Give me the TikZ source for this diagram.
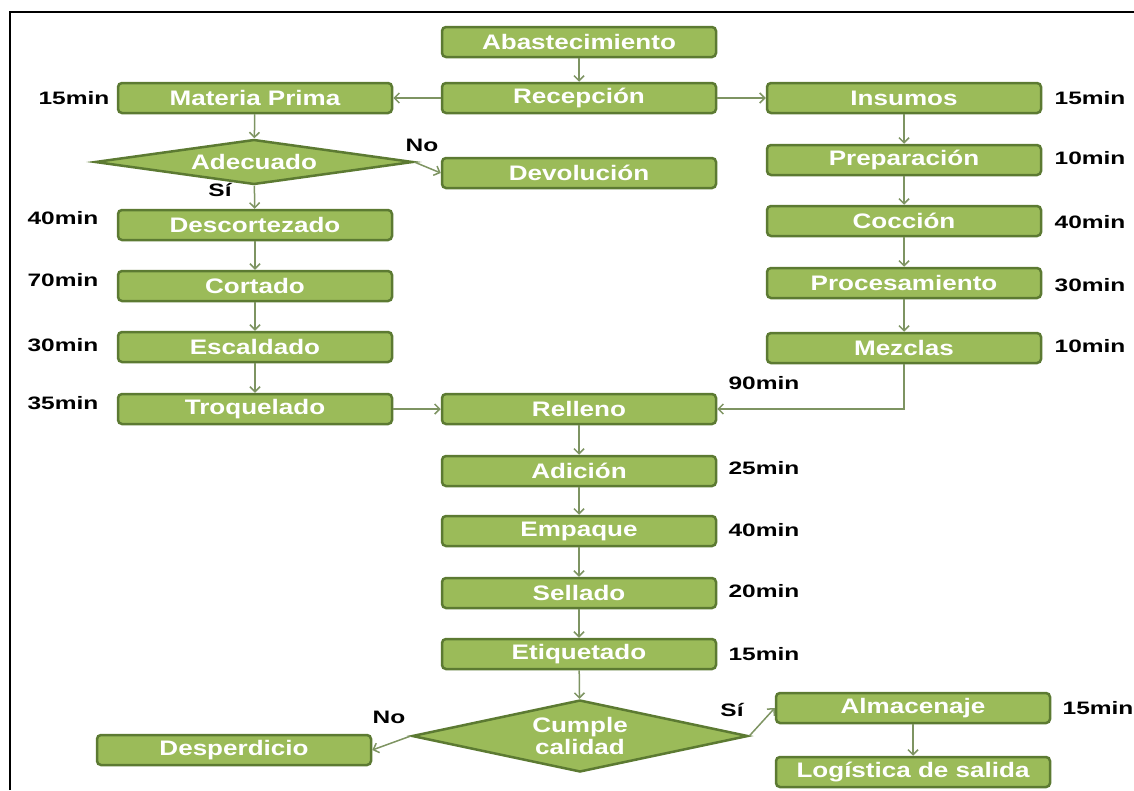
\documentclass[tikz,border=0pt]{standalone}
\usepackage{fontspec}
\usetikzlibrary{arrows.meta,shapes.geometric}
\newfontfamily\boxfont{Liberation Sans}[FakeStretch=1.24]
\newfontfamily\timefont{Liberation Sans}[FakeStretch=1.36]
\definecolor{boxfill}{HTML}{9BBB59}
\definecolor{boxedge}{HTML}{5C7A32}
\definecolor{linkcol}{HTML}{7E9462}
\tikzset{
  stepbox/.style={rectangle, rounded corners=4pt, fill=boxfill, draw=boxedge,
    line width=2.5pt, minimum width=274pt, minimum height=30pt, inner sep=0pt,
    text=white, font=\boxfont\bfseries\fontsize{21}{23}\selectfont},
  decision/.style={diamond, fill=boxfill, draw=boxedge, line width=2.5pt,
    inner sep=0pt, text=white, align=center,
    font=\boxfont\bfseries\fontsize{21}{23}\selectfont},
  timelabel/.style={font=\timefont\bfseries\fontsize{18}{20}\selectfont, inner sep=0pt},
  link/.style={draw=linkcol, line width=1.5pt,
    -{Straight Barb[length=5pt,width=10pt,line width=1.5pt]}}
}
\begin{document}
\begin{tikzpicture}[x=1pt,y=-1pt]
\useasboundingbox (0,0) rectangle (1134,790);
% frame
\draw[line width=2.5pt] (10,790) -- (10,12) -- (1134,12);

% central column
\node[stepbox] (abast) at (579,42) {Abastecimiento};
\node[stepbox] (recep) at (579,98) {Recepción};
\node[stepbox] (devol) at (579,173) {Devolución};
\node[stepbox] (rell) at (579,409) {Relleno};
\node[stepbox] (adic) at (579,471) {Adición};
\node[stepbox] (emp) at (579,531) {Empaque};
\node[stepbox] (sell) at (579,593) {Sellado};
\node[stepbox] (etiq) at (579,654) {Etiquetado};
\node[decision, shape aspect=4.6, minimum width=336pt, minimum height=72pt] (cumple)
  at (580,736) {Cumple\\[-1pt]calidad};

% left column
\node[stepbox] (mprima) at (255,98) {Materia Prima};
\node[decision, shape aspect=7, minimum width=318pt, minimum height=45pt] (adec)
  at (254,162) {Adecuado};
\node[stepbox] (desc) at (255,225) {Descortezado};
\node[stepbox] (cort) at (255,286) {Cortado};
\node[stepbox] (escal) at (255,347) {Escaldado};
\node[stepbox] (troq) at (255,409) {Troquelado};
\node[stepbox] (desp) at (234,750) {Desperdicio};

% right column
\node[stepbox] (insum) at (904,98) {Insumos};
\node[stepbox] (prep) at (904,160) {Preparación};
\node[stepbox] (cocc) at (904,221) {Cocción};
\node[stepbox] (proc) at (904,283) {Procesamiento};
\node[stepbox] (mezc) at (904,348) {Mezclas};
\node[stepbox] (alm) at (913,708) {Almacenaje};
\node[stepbox] (logi) at (913,772) {Logística de salida};

% times and decision labels
\node[timelabel] (t1) at (74,98) {15min};
\node[timelabel] (t2) at (63,218) {40min};
\node[timelabel] (t3) at (63,280) {70min};
\node[timelabel] (t4) at (63,345) {30min};
\node[timelabel] (t5) at (63,403) {35min};
\node[timelabel] (t6) at (1090,98) {15min};
\node[timelabel] (t7) at (1090,158) {10min};
\node[timelabel] (t8) at (1090,222) {40min};
\node[timelabel] (t9) at (1090,285) {30min};
\node[timelabel] (t10) at (1090,346) {10min};
\node[timelabel] (t11) at (764,383) {90min};
\node[timelabel] (t12) at (764,468) {25min};
\node[timelabel] (t13) at (764,530) {40min};
\node[timelabel] (t14) at (764,591) {20min};
\node[timelabel] (t15) at (764,654) {15min};
\node[timelabel] (t16) at (1098,708) {15min};
\node[timelabel] (no1) at (422,145) {No};
\node[timelabel] (si1) at (220,190) {Sí};
\node[timelabel] (no2) at (389,717) {No};
\node[timelabel] (si2) at (732,710) {Sí};

% connectors
\draw[link] (abast) -- (recep);
\draw[link] (recep) -- (mprima);
\draw[link] (recep) -- (insum);
\draw[link] (mprima) -- (adec);
\draw[link] (adec.east) -- (devol.west);
\draw[link] (adec) -- (desc);
\draw[link] (desc) -- (cort);
\draw[link] (cort) -- (escal);
\draw[link] (escal) -- (troq);
\draw[link] (troq) -- (rell);
\draw[link] (insum) -- (prep);
\draw[link] (prep) -- (cocc);
\draw[link] (cocc) -- (proc);
\draw[link] (proc) -- (mezc);
\draw[link] (mezc.south) |- (rell.east);
\draw[link] (rell) -- (adic);
\draw[link] (adic) -- (emp);
\draw[link] (emp) -- (sell);
\draw[link] (sell) -- (etiq);
\draw[link] (etiq) -- (cumple);
\draw[link] (cumple.west) -- (desp.east);
\draw[link] (cumple.east) -- (alm.west);
\draw[link] (alm) -- (logi);
\end{tikzpicture}
\end{document}
